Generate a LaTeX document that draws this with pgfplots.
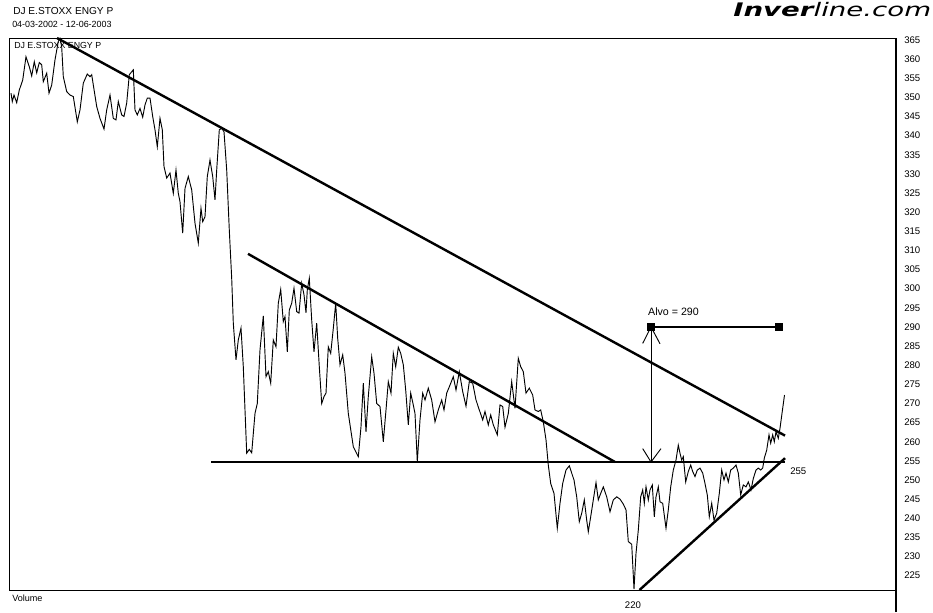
\documentclass[border=0pt]{standalone}
\usepackage{pgfplots}
\pgfplotsset{compat=1.18}
\usepackage{fontspec}
\setmainfont{Liberation Sans}
\newfontfamily\djv{DejaVu Sans}
\begin{document}
\begin{tikzpicture}
\path[use as bounding box] (0,0) rectangle (699.75pt,459pt);
\begin{axis}[
  at={(7.5pt,16.5pt)}, anchor=south west,
  scale only axis, width=664.5pt, height=414pt,
  xmin=10, xmax=896, ymin=221.25, ymax=365.5,
  xtick=\empty,
  ytick={225,230,...,365},
  yticklabel pos=right,
  major tick length=0pt,
  tick label style={font=\fontsize{7.2}{8}\selectfont},
  yticklabel style={anchor=west, inner sep=0pt, xshift=6pt},
  /pgf/number format/assume math mode=true,
  axis line style={line width=0.75pt},
  clip=false,
]
% price series
\addplot[black, line width=0.7pt] coordinates {
(11,351.1) (12.3,348.9) (14,350.6) (16.7,348.6) (19.3,351.9) (22.7,354.5) (26,360.6) (29.3,358.0) (31.7,355.6) (34.3,359.3)
(36.7,356.4) (39.3,359.1) (41.7,358.5) (43.3,354.1) (46.7,356.3) (49,351.1) (51.7,353.2) (55,359.8) (58.3,364.6) (60,365.4)
(61.7,363.2) (63.3,355.4) (66.7,351.5) (70,350.6) (73.3,350.2) (77.3,343.6) (80,346.7) (83.3,353.7) (87.3,356.1) (90,355.4)
(91.7,355.9) (96.7,347.6) (100,344.5) (104,341.7) (106.7,346.7) (110,350.6) (113.3,344.5) (116,344.1) (118.3,348.9) (121.7,345.4)
(124,345.0) (126.7,348.5) (129.3,355.9) (133.3,357.2) (135,346.7) (137.3,345.4) (140,347.1) (142.7,344.8) (145,348.0) (147.3,349.8)
(150,349.8) (152.7,345.0) (155,341.5) (157.3,337.1) (160,344.5) (162.3,341.5) (164,331.9) (166.7,328.9) (170,330.2) (173.3,324.9)
(176,331.0) (178.3,324.9) (180,322.7) (182.7,314.5) (185,326.2) (188.3,329.3) (191.7,325.8) (195,317.1) (198.3,311.9) (201,321.0)
(202.7,317.5) (205,318.8) (207.3,329.3) (210,333.6) (212.7,329.3) (215,323.2) (216.7,331.0) (219.3,341.5) (221.7,341.9) (224,341.0)
(226.7,331.0) (229.3,315.3) (231.7,302.7) (233.3,291.0) (236,281.4) (238.3,286.6) (241,289.7) (243.3,279.6) (246.7,257.0) (249.3,258.0)
(251.7,257.1) (255,267.4) (257.3,270.0) (260,284.0) (263.3,292.9) (266,277.0) (268.3,278.3) (270.7,275.3) (273.3,286.6) (276,284.8)
(278.3,296.2) (280.7,299.8) (283.3,291.4) (285,292.7) (287.3,283.5) (289.3,294.4) (291.7,296.2) (294,300.1) (296.7,294.0) (299,293.6)
(301.7,301.4) (304,298.4) (306,293.7) (307.3,299.7) (309.3,302.7) (311.7,291.8) (314,283.5) (316.7,291.0) (319.3,279.6) (321.7,270.0)
(324,271.8) (326,272.7) (328.3,284.8) (330.7,283.1) (333.3,289.6) (335.7,296.2) (337.7,287.0) (340,280.1) (342.7,282.7) (345,277.9)
(348.3,267.4) (353.3,258.7) (358.3,256.1) (361,263.9) (363.3,275.3) (366,262.6) (368.3,271.8) (371.7,282.2) (374,277.9) (376.7,270.0)
(380,269.2) (383.3,260.0) (386,268.3) (388.3,275.7) (391,272.7) (393.3,283.1) (395.7,279.6) (398.3,284.7) (400.7,283.1) (403.3,280.1)
(405.7,273.5) (408.3,264.4) (410.7,272.7) (413.3,269.6) (415,267.4) (417.3,254.8) (420,265.7) (422.7,272.7) (425,270.9) (428.3,274.0)
(431.7,270.9) (435,265.2) (438.3,268.3) (441.7,270.9) (444,268.3) (446.7,272.7) (450,274.8) (453.3,277.0) (456,273.5) (459.3,278.3)
(462.7,273.1) (466,269.3) (469.3,275.7) (472.7,275.3) (476,270.9) (479.3,268.3) (482.7,265.7) (485,267.9) (488.3,264.4) (490.7,267.0)
(493.3,264.4) (497.3,261.8) (500,269.6) (502.7,269.2) (505,263.8) (508.3,267.4) (511.7,275.7) (515,268.7) (518.3,281.8) (520.7,279.6)
(523.3,278.3) (526,272.7) (529.3,274.0) (532.7,272.2) (535,268.3) (538.3,267.9) (540.7,268.3) (543.3,265.2) (546,260.5) (548.3,253.9)
(550.7,249.1) (554,246.5) (557.3,237.4) (560,243.9) (562.7,249.1) (566,252.6) (569.3,253.7) (571.7,251.8) (574,250.0) (576.7,245.6)
(579.3,239.1) (581.7,241.3) (584.3,244.8) (586.7,239.5) (588.3,236.5) (590.7,240.4) (593.3,244.8) (596,249.3) (598.3,244.8) (600.7,246.5)
(603.3,248.2) (606.7,245.6) (610,241.7) (613.3,244.8) (616.7,245.6) (620,245.0) (623.3,243.7) (626,242.2) (628.3,233.9) (631.7,233.2)
(634,221.5) (636,230.8) (638.3,236.9) (640.7,245.6) (642.7,247.4) (644.3,243.9) (646,248.2) (648.3,244.8) (650,247.4) (652.3,248.7)
(654.3,240.4) (656,245.6) (658.3,248.2) (660,244.3) (662.7,243.9) (666,237.4) (668.3,242.2) (670.7,248.2) (673.3,252.6) (676,255.2)
(678.3,259.1) (680,257.0) (681.7,255.2) (683.3,256.1) (685.7,249.5) (688.3,252.2) (690.7,253.9) (692.7,252.2) (695,250.9) (697.3,252.6)
(700,253.1) (702.7,251.8) (705,249.1) (707.3,246.1) (709.3,240.4) (711.7,243.9) (714,239.5) (716.7,241.3) (719.3,246.5) (721.7,252.6)
(724,250.0) (726,251.8) (728.3,249.5) (730.7,252.6) (733.3,253.1) (736,253.9) (738.3,251.8) (740.7,246.1) (743.3,248.7) (746,248.2)
(748.3,249.5) (751,247.4) (753.3,250.4) (756,252.6) (758.3,253.1) (760.7,252.6) (762.7,253.1) (764.3,255.7) (766.7,257.8) (769,261.8)
(770.7,259.6) (772.7,261.8) (774.3,260.0) (776,262.6) (778.3,260.9) (780,263.5) (782,267.4) (784.5,272.2)
};
% trend lines
\addplot[black, line width=1.8pt] coordinates {(57,365.5) (785,261.6)};
\addplot[black, line width=1.8pt] coordinates {(248,309.1) (615,254.7)};
\addplot[black, line width=1.8pt] coordinates {(211,254.7) (785,254.7)};
\addplot[black, line width=1.8pt] coordinates {(639.5,221.25) (785,255.7)};
% target arrow
\addplot[black, line width=0.7pt] coordinates {(651,290) (651,254.7)};
\addplot[black, line width=0.7pt] coordinates {(642.7,285.7) (651,290) (660,285.6)};
\addplot[black, line width=0.7pt] coordinates {(642.7,258.2) (651,254.7) (661,258.2)};
\addplot[black, line width=1.8pt, mark=square*, mark size=2.2pt, mark options={solid}] coordinates {(651,290) (779,290)};
\node[font=\fontsize{8}{9}\selectfont, inner sep=0pt] at (axis cs:673.5,294.0) {Alvo = 290};
\node[font=\fontsize{7.2}{8}\selectfont, inner sep=0pt, anchor=west] at (axis cs:790,252.4) {255};
\node[font=\fontsize{7.2}{8}\selectfont, inner sep=0pt] at (axis cs:633,217.3) {220};
\end{axis}
% frame extras
\draw[line width=1.75pt] (672pt,0pt) -- (672pt,430.5pt);
% texts
\node[anchor=west, inner sep=0pt, font=\fontsize{7.6}{8}\selectfont] at (9.75pt,450.5pt) {DJ E.STOXX ENGY P};
\node[anchor=west, inner sep=0pt, font=\fontsize{6.7}{8}\selectfont] at (9pt,441pt) {04-03-2002 - 12-06-2003};
\node[anchor=west, inner sep=0pt, font=\fontsize{6.6}{8}\selectfont] at (10.5pt,425.25pt) {DJ E.STOXX ENGY P};
\node[anchor=west, inner sep=0pt, font=\fontsize{6.8}{7}\selectfont] at (9pt,10.5pt) {Volume};
\node[anchor=base west, inner sep=0pt] at (549.75pt,446.5pt) {\scalebox{1.48}[1]{\djv\fontsize{14}{16}\selectfont{\bfseries\itshape Inver}{\itshape line.com}}};
\end{tikzpicture}
\end{document}
